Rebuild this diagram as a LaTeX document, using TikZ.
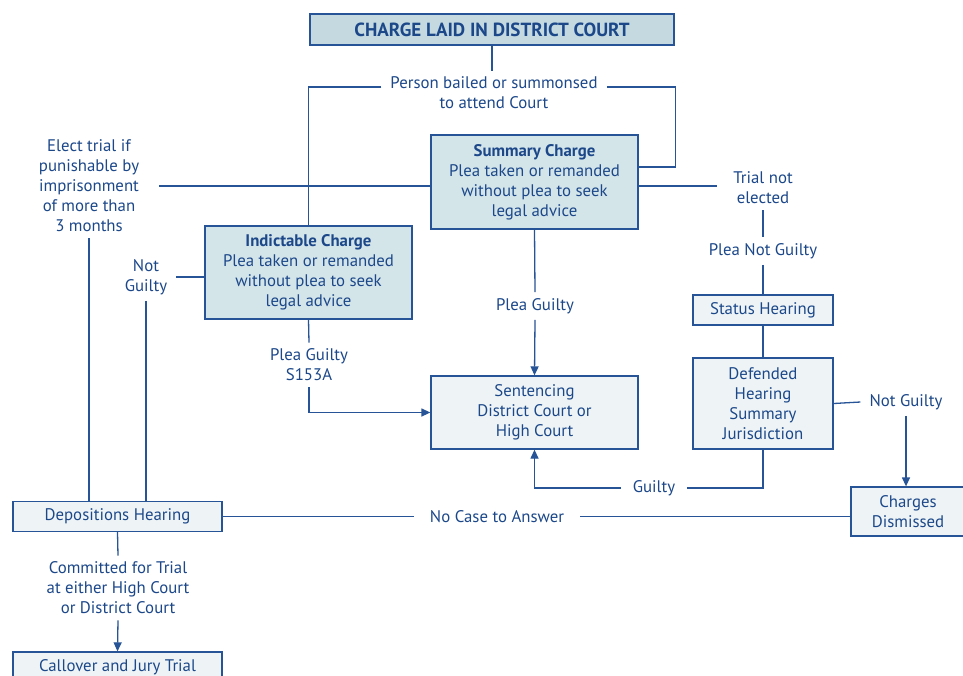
\documentclass[tikz,border=0pt]{standalone}
\usepackage{fontspec}
\setmainfont{PT Sans}
\usepackage{tikz}
\usetikzlibrary{
  arrows.meta,
  positioning}

\definecolor{textblue}{RGB}{28,72,138}
\definecolor{lineblue}{RGB}{38,84,150}
\definecolor{topfill}{RGB}{196,218,224}
\definecolor{midfill}{RGB}{212,229,233}
\definecolor{lowfill}{RGB}{238,244,245}

\tikzset{
  box/.style={draw=lineblue,line width=1.3pt,text=textblue,align=center,inner sep=0pt},
  topbox/.style={box,fill=topfill,font=\fontsize{19}{20}\selectfont\bfseries},
  chargebox/.style={box,fill=midfill,minimum width=207pt,minimum height=94pt},
  stagebox/.style={box,fill=lowfill},
  lbl/.style={text=textblue,align=center,inner xsep=9pt,inner ysep=6pt},
  link/.style={draw=lineblue,line width=1.3pt},
  tip/.style={link,-{Triangle[length=9pt,width=8pt]}}
}

\begin{document}
\fontsize{16.8}{20}\selectfont
\begin{tikzpicture}[x=1pt,y=-1pt]
\useasboundingbox[fill=white] (0,0) rectangle (963,675);
\node[topbox,minimum width=364pt,minimum height=31pt] (charge) at (492,29.5) {CHARGE LAID IN DISTRICT COURT};
\node[lbl] (person) at (494,93) {Person bailed or summonsed\\to attend Court};
\node[chargebox] (summ) at (534.5,182) {\textbf{Summary Charge}\\Plea taken or remanded\\without plea to seek\\legal advice};
\node[chargebox,minimum height=93pt] (indict) at (308.5,272.5) {\textbf{Indictable Charge}\\Plea taken or remanded\\without plea to seek\\legal advice};
\node[lbl,inner xsep=20pt] (elect) at (89,186) {Elect trial if\\punishable by\\imprisonment\\of more than\\3 months};
\node[lbl] (notguilty) at (146,277) {Not\\Guilty};
\node[lbl] (pleas) at (309,365) {Plea Guilty\\S153A};
\node[lbl] (pleaguilty) at (535,306) {Plea Guilty};
\node[stagebox,minimum width=207pt,minimum height=73pt] (sent) at (534.5,412.5) {Sentencing\\District Court or\\High Court};
\node[lbl,inner xsep=16pt] (trial) at (763,188) {Trial not\\elected};
\node[lbl] (pleanot) at (763,251) {Plea Not Guilty};
\node[stagebox,minimum width=140pt,minimum height=30pt] (status) at (763,310) {Status Hearing};
\node[stagebox,minimum width=140pt,minimum height=91pt] (defend) at (763,403.5) {Defended\\Hearing\\Summary\\Jurisdiction};
\node[lbl] (notguilty2) at (906,402) {Not Guilty};
\node[stagebox,minimum width=114pt,minimum height=49pt] (dismiss) at (908,511.5) {Charges\\Dismissed};
\node[lbl,inner xsep=12pt] (guilty) at (654,488) {Guilty};
\node[stagebox,minimum width=209pt,minimum height=30pt] (depo) at (117.5,516.5) {Depositions Hearing};
\node[lbl,inner xsep=16pt] (nocase) at (497,516.5) {No Case to Answer};
\node[lbl] (commit) at (118,588) {Committed for Trial\\at either High Court\\or District Court};
\node[stagebox,minimum width=209pt,minimum height=30pt] (callover) at (117.5,667) {Callover and Jury Trial};

\draw[link] (charge.south) -- (charge.south |- person.north);
\draw[link] ([yshift=6pt]person.west) -| (indict.north);
\draw[link] ([yshift=6pt]person.east) -| ([xshift=37pt,yshift=15pt]summ.east) -- ([yshift=15pt]summ.east);
\draw[link] ([yshift=-4pt]summ.west) -- ([yshift=-4pt]summ.west -| elect.east);
\draw[link] ([yshift=-4pt]summ.east) -- ([yshift=-4pt]summ.east -| trial.west);
\draw[link] (elect.south) -- (elect.south |- depo.north);
\draw[link] (notguilty.east) -- (notguilty.east -| indict.west);
\draw[link] (notguilty.south) -- (notguilty.south |- depo.north);
\draw[link] (indict.south) -- (pleas.north);
\draw[tip] (pleas.south) |- (sent.west);
\draw[link] (summ.south) -- (pleaguilty.north);
\draw[tip] (pleaguilty.south) -- (sent.north);
\draw[link] (trial.south) -- (pleanot.north);
\draw[link] (pleanot.south) -- (status.north);
\draw[link] (status.south) -- (defend.north);
\draw[link] (defend.east) -- (notguilty2.west);
\draw[tip] (notguilty2.south) -- (notguilty2.south |- dismiss.north);
\draw[link] (defend.south) |- (guilty.east);
\draw[tip] (guilty.west) -| (sent.south);
\draw[link] (depo.east) -- (nocase.west);
\draw[link] (nocase.east) -- (nocase.east -| dismiss.west);
\draw[link] (depo.south) -- (commit.north);
\draw[tip] (commit.south) -- (callover.north);
\end{tikzpicture}
\end{document}
